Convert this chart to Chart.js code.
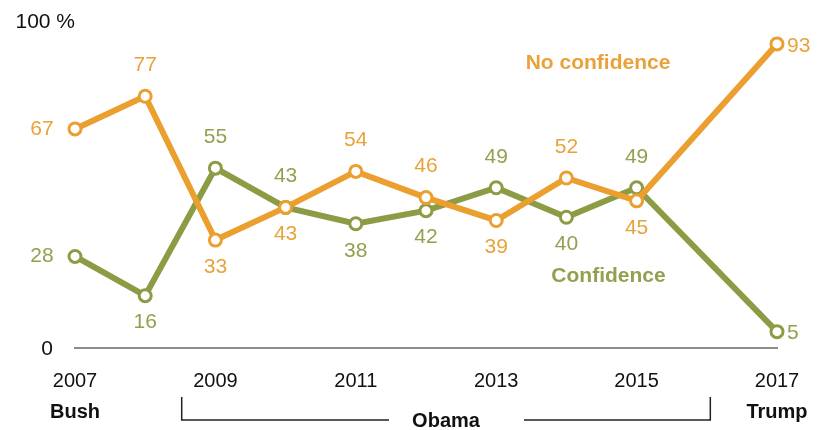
<!DOCTYPE html>
<html>
<head>
<meta charset="utf-8">
<script src="https://cdn.jsdelivr.net/npm/chart.js@4/dist/chart.umd.min.js"></script>
<style>
  html, body { margin: 0; padding: 0; background: #fff; }
  #wrap { width: 827px; height: 430px; position: relative; }
</style>
</head>
<body>
<div id="wrap"><canvas id="chart"></canvas></div>
<script>
const years = [2007, 2008, 2009, 2010, 2011, 2012, 2013, 2014, 2015, 2017];
const noConfidence = [67, 77, 33, 43, 54, 46, 39, 52, 45, 93];
const confidence = [28, 16, 55, 43, 38, 42, 49, 40, 49, 5];
const yTicks = [0, 100];

// where each value label sits relative to its point
const noConfPos = ["left", "above", "below", "below", "above", "above", "below", "above", "below", "right"];
const confPos = ["left", "below", "above", "above", "below", "below", "above", "below", "above", "right"];

const ORANGE = "#EA9F2F";
const GREEN = "#8B9C45";
const ORANGE_TXT = "#E9A23A";
const GREEN_TXT = "#93A04F";
const FONT = "'Liberation Sans', Arial, sans-serif";

const toPoints = vals => vals.map((v, i) => ({ x: years[i], y: v }));

const labelPlugin = {
  id: "labels",
  afterDatasetsDraw(chart) {
    const ctx = chart.ctx;
    const x = chart.scales.x;
    const y = chart.scales.y;
    ctx.save();

    // value labels
    chart.data.datasets.forEach((ds, di) => {
      const meta = chart.getDatasetMeta(di);
      const pos = di === 0 ? noConfPos : confPos;
      ctx.fillStyle = di === 0 ? ORANGE_TXT : GREEN_TXT;
      ctx.font = "21px " + FONT;
      ctx.textBaseline = "middle";
      meta.data.forEach((pt, i) => {
        const txt = String(ds.data[i].y);
        let tx = pt.x, ty = pt.y;
        ctx.textAlign = "center";
        if (pos[i] === "above") ty -= 31;
        else if (pos[i] === "below") ty += 27;
        else if (pos[i] === "left") tx -= 33;
        else { ctx.textAlign = "left"; tx += 10; ty += 2; }
        ctx.fillText(txt, tx, ty);
      });
    });

    // series names
    ctx.font = "bold 21px " + FONT;
    ctx.textAlign = "center";
    ctx.fillStyle = ORANGE_TXT;
    ctx.fillText("No confidence", x.getPixelForValue(2014.45), y.getPixelForValue(87));
    ctx.fillStyle = GREEN_TXT;
    ctx.fillText("Confidence", x.getPixelForValue(2014.6), y.getPixelForValue(22));

    // y axis labels
    ctx.fillStyle = "#111";
    ctx.font = "21px " + FONT;
    ctx.textAlign = "right";
    yTicks.forEach(t => {
      const label = t === 100 ? "100 %" : String(t);
      const rx = t === 100 ? 75 : 53;
      ctx.fillText(label, rx, y.getPixelForValue(t) + 1);
    });

    // president brackets
    const by = 412;
    ctx.font = "bold 20px " + FONT;
    ctx.fillStyle = "#111";
    ctx.textAlign = "center";
    ctx.fillText("Bush", x.getPixelForValue(2007), by);
    ctx.fillText("Trump", x.getPixelForValue(2017), by);
    const bx1 = x.getPixelForValue(2008.52);
    const bx2 = x.getPixelForValue(2016.05);
    const mid = (bx1 + bx2) / 2;
    ctx.fillText("Obama", mid, 421);
    ctx.strokeStyle = "#222";
    ctx.lineWidth = 1.5;
    ctx.beginPath();
    ctx.moveTo(bx1, 397); ctx.lineTo(bx1, 420); ctx.lineTo(mid - 57, 420);
    ctx.moveTo(mid + 78, 420); ctx.lineTo(bx2, 420); ctx.lineTo(bx2, 397);
    ctx.stroke();
    ctx.restore();
  }
};

new Chart(document.getElementById("chart"), {
  type: "line",
  data: {
    datasets: [
      {
        label: "No confidence",
        data: toPoints(noConfidence),
        borderColor: ORANGE,
        backgroundColor: "#fff",
        borderWidth: 6,
        pointRadius: 6,
        pointBorderWidth: 3,
        pointBorderColor: ORANGE,
        pointBackgroundColor: "#fff",
        tension: 0,
        clip: false
      },
      {
        label: "Confidence",
        data: toPoints(confidence),
        borderColor: GREEN,
        backgroundColor: "#fff",
        borderWidth: 6,
        pointRadius: 6,
        pointBorderWidth: 3,
        pointBorderColor: GREEN,
        pointBackgroundColor: "#fff",
        tension: 0,
        clip: false
      }
    ]
  },
  options: {
    responsive: true,
    maintainAspectRatio: false,
    animation: false,
    layout: { padding: { left: 75, right: 50, top: 21, bottom: 24 } },
    plugins: { legend: { display: false }, tooltip: { enabled: false } },
    scales: {
      x: {
        type: "linear",
        min: 2007,
        max: 2017,
        grid: { display: false },
        border: { display: true, color: "#8c8c8c", width: 2 },
        ticks: {
          stepSize: 2,
          autoSkip: false,
          maxRotation: 0,
          padding: 13,
          color: "#111",
          font: { family: FONT, size: 20 },
          callback: v => String(v)
        }
      },
      y: {
        display: false,
        min: 0,
        max: 100
      }
    }
  },
  plugins: [labelPlugin]
});
</script>
</body>
</html>
